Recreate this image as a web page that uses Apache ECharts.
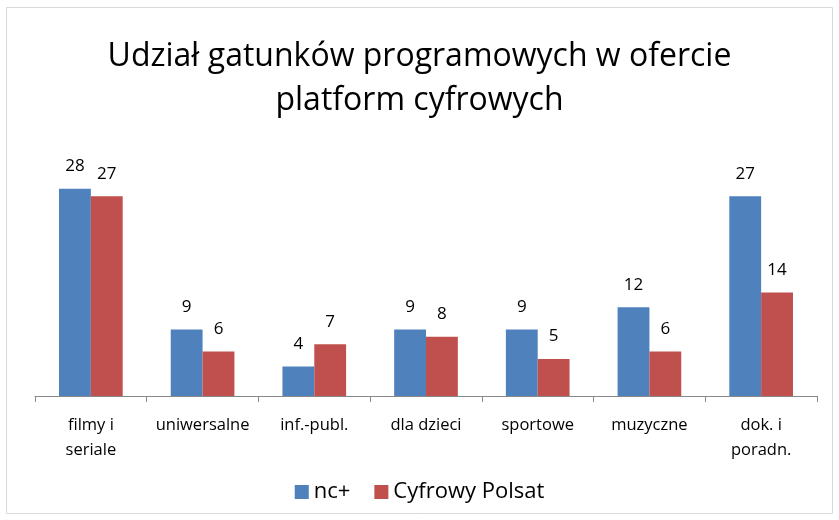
<!DOCTYPE html>
<html>
<head>
<meta charset="utf-8">
<script src="https://cdn.jsdelivr.net/npm/echarts@6/dist/echarts.min.js"></script>
<style>
html,body{margin:0;padding:0;background:#fff;}
#chart{width:839px;height:520px;}
</style>
</head>
<body>
<div id="chart"></div>
<script>
const categories = ['filmy i\nseriale', 'uniwersalne', 'inf.-publ.', 'dla dzieci', 'sportowe', 'muzyczne', 'dok. i\nporadn.'];
const ncPlus = [28, 9, 4, 9, 9, 12, 27];
const polsat = [27, 6, 7, 8, 5, 6, 14];

const font = 'Open Sans, Noto Sans, sans-serif';
const myChart = echarts.init(document.getElementById('chart'));
const option = {
    animation: false,
    backgroundColor: '#fff',
    textStyle: { fontFamily: font },
    graphic: [{
        type: 'rect',
        shape: { x: 6.5, y: 7.5, width: 826, height: 506 },
        style: { fill: 'none', stroke: '#d9d9d9', lineWidth: 1 }
    }],
    title: {
        text: 'Udział gatunków programowych w ofercie\nplatform cyfrowych',
        left: 'center',
        top: 30,
        textStyle: { fontFamily: font, fontSize: 32, fontWeight: 'normal', color: '#000', lineHeight: 44 }
    },
    legend: {
        bottom: 12,
        left: 'center',
        itemWidth: 14,
        itemHeight: 14,
        itemGap: 24,
        icon: 'rect',
        textStyle: { fontFamily: font, fontSize: 22, color: '#000' },
        data: ['nc+', 'Cyfrowy Polsat']
    },
    grid: { left: 35, right: 22, top: 174, bottom: 124 },
    xAxis: {
        type: 'category',
        data: categories,
        axisLine: { lineStyle: { color: '#888', width: 1 } },
        axisTick: { show: true, length: 6, lineStyle: { color: '#888' } },
        axisLabel: { interval: 0, fontFamily: font, fontSize: 16.5, color: '#000', margin: 17, lineHeight: 25 }
    },
    yAxis: {
        type: 'value',
        min: 0,
        max: 30,
        show: false,
        splitLine: { show: false }
    },
    series: [
        {
            name: 'nc+',
            type: 'bar',
            data: ncPlus,
            barGap: 0,
            barCategoryGap: '43%',
            itemStyle: { color: '#4f81bd' },
            label: { show: true, position: 'top', distance: 14, fontFamily: font, fontSize: 17, color: '#000' }
        },
        {
            name: 'Cyfrowy Polsat',
            type: 'bar',
            data: polsat,
            itemStyle: { color: '#c0504d' },
            label: { show: true, position: 'top', distance: 14, fontFamily: font, fontSize: 17, color: '#000' }
        }
    ]
};
myChart.setOption(option);
</script>
</body>
</html>
